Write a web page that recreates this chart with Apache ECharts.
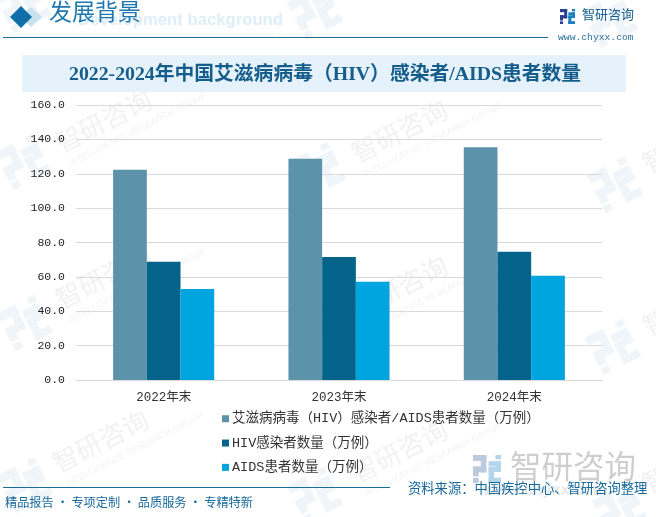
<!DOCTYPE html>
<html><head><meta charset="utf-8">
<style>html,body{margin:0;padding:0;background:#fff}#c{width:656px;height:517px}</style>
<script src="https://cdn.jsdelivr.net/npm/echarts@6/dist/echarts.min.js"></script></head>
<body><div id="c"></div>
<script>
const categories=['2022年末','2023年末','2024年末'];
const seriesNames=['艾滋病病毒（HIV）感染者/AIDS患者数量（万例）','HIV感染者数量（万例）','AIDS患者数量（万例）'];
const totalValues=[122.3,128.7,135.4];
const hivValues=[68.8,71.6,74.6];
const aidsValues=[53.0,57.2,60.6];
const colors=['#5d92ab','#04638a','#00a4de'];
const CJK='"Noto Sans CJK SC"';
const SERIF='"Liberation Serif","Noto Sans CJK SC"';
const MONO='"Liberation Mono","Noto Sans CJK SC"';
const chart=echarts.init(document.getElementById('c'),null,{renderer:'canvas'});

function logo(x,y,s,col1,col2,z){
  const u=s/9;
  const r=(a,b,w,h,c)=>({type:'rect',silent:true,z:z,shape:{x:x+a*u,y:y+b*u,width:w*u,height:h*u},style:{fill:c}});
  return [r(0,0,4.3,1.9,col1),r(2.5,0,1.8,5.6,col1),r(0,3.7,4.3,1.9,col1),r(0,3.7,1.8,3.2,col1),r(0,7.4,1.8,1.6,col1),
          r(5,2,4,1.7,col2),r(7.2,2,1.8,3.4,col2),r(5,3.9,4,1.5,col2),r(5,3.9,1.8,5.1,col2),r(5,7.3,4,1.7,col2),r(7.2,0,1.8,1.4,col2)];
}
function watermark(x,y){
  return {type:'group',x:x,y:y,rotation:27*Math.PI/180,silent:true,z:0,children:[
    {type:'text',style:{x:0,y:0,text:'智研咨询',font:'26px '+CJK,fill:'rgba(140,140,140,0.12)',letterSpacing:3}},
    {type:'text',style:{x:2,y:32,text:'INTELLIGENCE RESEARCH GROUP',font:'9px "Liberation Sans",Arial',fill:'rgba(140,140,140,0.11)'}}
  ]};
}
const wmPositions=[[51,133],[51,289],[48,453],[347,143],[347,299],[347,463],[638,153],[638,316],[638,473]];
const logoPositions=[[23,162],[25,323],[25,485],[318,170],[318,332],[315,495],[615,185],[613,347],[620,510],[23,5],[315,12],[610,20]];
const graphic=[];
wmPositions.forEach(p=>graphic.push(watermark(p[0],p[1])));
logoPositions.forEach(p=>{
  graphic.push({type:'group',x:p[0],y:p[1],rotation:27*Math.PI/180,silent:true,z:0,children:logo(-21,-21,42,'#eff5f9','#eff5f9',0)});
});
graphic.push(
  {type:'rect',silent:true,z:1,shape:{x:22,y:55,width:604,height:37},style:{fill:'#e5f2fb'}},
  {type:'polygon',silent:true,z:2,shape:{points:[[31,7],[42,17],[31,27],[20,17]]},style:{fill:'#c9e0ef'}},
  {type:'polygon',silent:true,z:3,shape:{points:[[21,6],[32,17],[21,28],[10,17]]},style:{fill:'#0f6ea8'}},
  {type:'text',silent:true,z:2,style:{x:283,y:12,align:'right',text:'Development background',font:'bold 16.7px "Liberation Sans",Arial',fill:'#deedf8'}},
  {type:'text',silent:true,z:3,style:{x:49,y:2,text:'发展背景',font:'23px '+SERIF,fill:'#1f78ad'}},
  {type:'line',silent:true,z:3,shape:{x1:3,y1:37.5,x2:548,y2:37.5},style:{stroke:'#1a6c9a',lineWidth:1}},
  {type:'text',silent:true,z:3,style:{x:69,y:65,text:'2022-2024年中国艾滋病病毒（HIV）感染者/AIDS患者数量',font:'bold 19.8px '+SERIF,fill:'#155d8a'}},
  {type:'text',silent:true,z:3,style:{x:582,y:8,text:'智研咨询',font:'13px '+CJK,fill:'#17608f',letterSpacing:0.3}},
  {type:'text',silent:true,z:3,style:{x:558,y:33,text:'www.chyxx.com',font:'9.7px '+MONO,fill:'#2a6d97'}},
  ...logo(560,9,15,'#2b3f92','#1b7fc0',3),
  {type:'line',silent:true,z:3,shape:{x1:3,y1:487.5,x2:390,y2:487.5},style:{stroke:'#1a6c9a',lineWidth:1}},
  {type:'text',silent:true,z:3,style:{x:5,y:496,text:'精品报告 · 专项定制 · 品质服务 · 专精特新',font:'12.2px '+CJK,fill:'#17699c'}},
  {type:'text',silent:true,z:3,style:{x:408,y:481,text:'资料来源：中国疾控中心、智研咨询整理',font:'13.3px '+CJK,fill:'#17699c'}},
  ...logo(473,455,28,'#bcc9df','#b4d6ec',2),
  {type:'text',silent:true,z:2,style:{x:510,y:450,text:'智研咨询',font:'31.5px '+CJK,fill:'rgba(120,120,120,0.36)'}},
  {type:'text',silent:true,z:2,style:{x:483,y:483,text:'www.chyxx.com',font:'bold 16px "Liberation Sans",Arial',fill:'rgba(120,120,120,0.16)'}}
);

chart.setOption({
  animation:false,
  backgroundColor:'#fff',
  color:colors,
  graphic:graphic,
  grid:{left:76,right:54,top:105,bottom:137,containLabel:false},
  legend:{orient:'vertical',left:217,top:407,itemWidth:7,itemHeight:7,itemGap:10.8,icon:'rect',
    data:seriesNames,textStyle:{fontFamily:MONO,fontSize:13.5,color:'#333',padding:[0,0,0,-2]}},
  xAxis:{type:'category',data:categories,
    axisLine:{lineStyle:{color:'#d9d9d9',width:1}},axisTick:{show:false},
    axisLabel:{fontFamily:MONO,fontSize:12.5,color:'#333',margin:11}},
  yAxis:{type:'value',min:0,max:160,interval:20,
    axisLine:{show:false},axisTick:{show:false},
    splitLine:{lineStyle:{color:'#d9d9d9',width:1}},
    axisLabel:{fontFamily:MONO,fontSize:11.5,color:'#222',margin:11,padding:[2,0,0,0],formatter:v=>v.toFixed(1)}},
  series:[
    {name:seriesNames[0],type:'bar',data:totalValues,barWidth:33.7,barGap:'0%',z:5},
    {name:seriesNames[1],type:'bar',data:hivValues,barWidth:33.7,barGap:'0%',z:5},
    {name:seriesNames[2],type:'bar',data:aidsValues,barWidth:33.7,barGap:'0%',z:5}
  ]
});
</script></body></html>
